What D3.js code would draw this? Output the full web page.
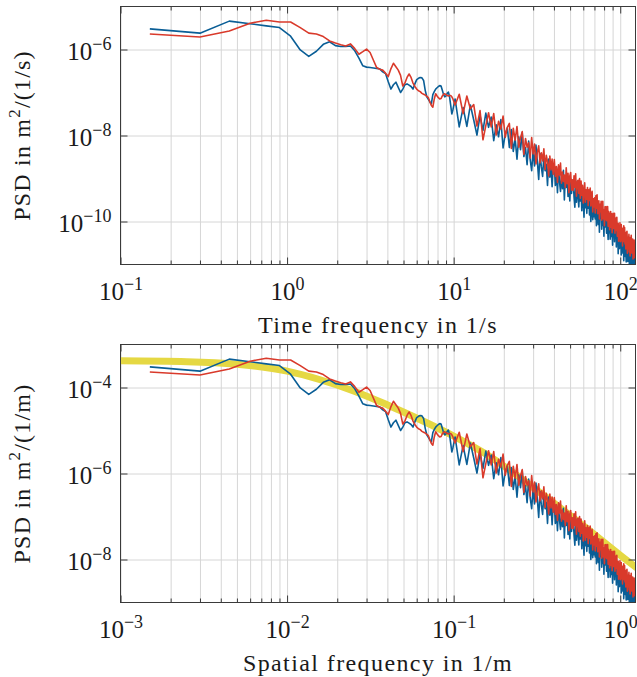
<!DOCTYPE html>
<html>

<head>
    <meta charset="utf-8">
    <title>PSD</title>
    <script src="https://cdn.jsdelivr.net/npm/d3@7/dist/d3.min.js"></script>
    <style>
        body { margin: 0; background: #fff; }
        text { font-family: 'Liberation Serif', 'Times New Roman', serif; fill: #1a1a1a; }
    </style>
</head>

<body>
    <svg width="637" height="677" id="mainsvg" style='display: block;'></svg>
    <script>
        // frequency grid: FFT bins of 0.15 Hz below 10 Hz, then every 0.6 Hz
        const df = 0.15;
        const fHighStart = 10.2;
        const dfHigh = 0.6;
        const speed = 100; // m/s, time frequency -> spatial frequency

        // log10 of PSD in m^2/(1/s), bins k*df, k = 1..66
        const blueLow = [
            -5.52, -5.62, -5.34, -5.40, -5.45, -5.49, -5.69, -6.01, -6.16, -6.04,
            -5.88, -5.82, -5.91, -5.93, -5.93, -5.92, -6.03, -6.20, -6.38, -6.41,
            -6.42, -6.43, -6.44, -6.45, -6.52, -6.56, -6.75, -6.92, -6.82, -6.76,
            -6.88, -7.00, -6.92, -6.82, -6.80, -6.83, -6.86, -6.92, -6.80, -6.70,
            -6.67, -6.65, -6.66, -6.72, -6.95, -7.10, -7.16, -7.22, -7.26, -7.05,
            -6.98, -6.92, -6.89, -6.86, -6.84, -6.85, -6.95, -7.05, -7.10, -7.08,
            -7.02, -6.99, -7.10, -7.30, -7.50, -7.40];
        const redLow = [
            -5.64, -5.71, -5.57, -5.39, -5.32, -5.36, -5.36, -5.49, -5.62, -5.64,
            -5.70, -5.80, -5.85, -5.89, -5.92, -5.87, -5.98, -6.11, -6.05, -5.99,
            -6.07, -6.25, -6.42, -6.46, -6.48, -6.55, -6.63, -6.45, -6.32, -6.40,
            -6.48, -6.60, -6.85, -6.78, -6.65, -6.57, -6.65, -6.78, -6.86, -6.92,
            -6.96, -6.98, -7.02, -7.04, -7.06, -7.09, -7.12, -7.22, -7.30, -7.34,
            -7.15, -7.03, -7.08, -7.12, -7.15, -7.14, -7.08, -7.04, -7.03, -7.05,
            -7.07, -7.08, -7.07, -7.07, -7.10, -7.15];
        // log10 of PSD, f = 10.2 + 0.6 i, i = 0..188
        const blueHigh = [
            -7.15, -7.80, -7.35, -7.79, -7.29, -7.64, -7.99, -7.53, -7.88, -7.48,
            -7.81, -7.57, -8.12, -7.75, -8.03, -7.63, -8.29, -7.97, -7.82, -8.28,
            -7.86, -8.37, -8.07, -8.55, -8.03, -8.33, -7.94, -8.49, -8.28, -8.68,
            -8.13, -8.56, -8.82, -8.34, -8.71, -8.22, -8.60, -9.02, -8.42, -8.73,
            -8.95, -8.47, -8.82, -8.67, -9.16, -8.55, -8.97, -8.71, -9.19, -8.71,
            -8.71, -9.16, -8.85, -9.33, -8.75, -9.08, -9.30, -8.90, -9.24, -8.81,
            -9.50, -8.95, -9.21, -8.91, -9.42, -9.11, -9.52, -9.01, -9.35, -9.12,
            -9.04, -9.43, -9.67, -9.16, -9.55, -9.06, -9.41, -9.66, -9.21, -9.52,
            -9.29, -9.75, -9.20, -9.55, -9.90, -9.31, -9.68, -9.41, -9.81, -9.32,
            -9.69, -9.37, -9.85, -9.53, -10.00, -9.41, -9.73, -9.96, -9.54, -9.89,
            -9.53, -9.94, -9.66, -10.10, -9.54, -9.87, -10.07, -9.68, -10.25, -9.63,
            -9.93, -9.62, -10.18, -9.79, -10.09, -9.75, -10.34, -9.88, -10.13, -9.76,
            -9.86, -10.27, -9.80, -10.16, -10.42, -9.93, -10.26, -9.87, -10.41, -10.03,
            -10.35, -9.96, -10.20, -10.55, -9.94, -10.33, -10.11, -10.47, -10.03, -10.32,
            -10.05, -10.59, -10.18, -10.47, -10.07, -10.75, -10.42, -10.21, -10.63, -10.31,
            -10.53, -10.19, -10.78, -10.36, -10.64, -10.28, -10.74, -10.35, -10.91, -10.30,
            -10.40, -10.81, -10.34, -10.65, -10.94, -10.33, -10.76, -10.52, -10.93, -10.45,
            -10.84, -10.48, -10.99, -10.57, -10.84, -10.46, -11.09, -10.73, -10.57, -11.00,
            -10.59, -10.97, -10.53, -11.12, -10.70, -10.91, -10.59, -11.10, -10.85];
        const redHigh = [
            -7.29, -7.04, -7.49, -7.08, -7.38, -7.28, -7.78, -7.42, -8.10, -7.77,
            -7.47, -7.80, -7.49, -7.99, -7.67, -7.85, -7.55, -8.04, -7.81, -7.72,
            -8.30, -7.83, -8.11, -7.79, -8.27, -8.05, -7.91, -8.44, -8.07, -8.27,
            -8.17, -8.52, -8.05, -8.43, -8.20, -8.66, -8.39, -8.24, -8.64, -8.40,
            -8.59, -8.31, -8.79, -8.46, -8.61, -8.94, -8.48, -8.80, -8.55, -8.90,
            -8.56, -8.95, -8.72, -9.09, -8.68, -8.92, -8.64, -9.11, -8.85, -9.07,
            -8.92, -9.21, -8.75, -9.12, -8.88, -9.33, -8.94, -8.86, -9.27, -9.03,
            -9.28, -8.94, -9.21, -8.89, -9.41, -9.10, -9.04, -9.35, -9.00, -9.46,
            -9.06, -9.39, -9.16, -9.57, -9.29, -9.10, -9.55, -9.26, -9.48, -9.21,
            -9.63, -9.26, -9.51, -9.22, -9.64, -9.40, -9.30, -9.78, -9.47, -9.66,
            -9.45, -9.80, -9.40, -9.69, -9.38, -9.82, -9.61, -9.52, -9.94, -9.60,
            -9.77, -9.53, -9.97, -9.64, -9.53, -9.94, -9.73, -10.10, -9.66, -9.95,
            -9.65, -9.98, -9.84, -9.65, -10.11, -9.77, -9.98, -10.19, -9.83, -9.77,
            -10.14, -9.82, -10.26, -9.92, -9.81, -10.16, -10.00, -9.81, -10.27, -10.01,
            -9.92, -10.21, -9.90, -10.34, -10.13, -10.04, -10.46, -10.12, -10.29, -10.03,
            -10.47, -10.16, -10.07, -10.45, -10.23, -10.57, -10.15, -10.39, -10.10, -10.47,
            -10.14, -10.52, -10.33, -10.64, -10.25, -10.49, -10.23, -10.74, -10.37, -10.64,
            -10.46, -10.30, -10.71, -10.42, -10.80, -10.37, -10.64, -10.32, -10.73, -10.49,
            -10.72, -10.41, -10.87, -10.53, -10.69, -10.43, -10.84, -10.52, -10.77];

        // reference road spectrum, spatial frequency in 1/m and log10 PSD in m^2/(1/m)
        const yellowFreq = [0.001, 0.0025, 0.005, 0.01, 0.0158, 0.0251, 0.0398, 0.0631, 0.1, 0.158, 0.251, 0.398, 0.631, 1.0, 1.259];
        const yellowExp = [-3.38, -3.40, -3.46, -3.62, -3.82, -4.08, -4.40, -4.75, -5.13, -5.56, -6.10, -6.68, -7.28, -7.90, -8.20];

        const timeTicksX = [0.1, 1, 10, 100];
        const timeTicksY = [1e-10, 1e-8, 1e-6];
        const spatialTicksX = [0.001, 0.01, 0.1, 1];
        const spatialTicksY = [1e-8, 1e-6, 1e-4];

        const svg = d3.select('#mainsvg');
        const left = 120.5;
        const innerWidth = 515;
        const innerHeight = 258;

        const timeFreq = blueLow.map((_, k) => (k + 1) * df)
            .concat(blueHigh.map((_, i) => fHighStart + i * dfHigh));
        const blueExp = blueLow.concat(blueHigh);
        const redExp = redLow.concat(redHigh);

        function gridValues(domain) {
            const out = [];
            for (let e = Math.floor(Math.log10(domain[0])); e <= Math.ceil(Math.log10(domain[1])); e++) {
                for (let m = 1; m <= 9; m++) {
                    const v = m * Math.pow(10, e);
                    if (v >= domain[0] * 0.9999 && v <= domain[1]) out.push(v);
                }
            }
            return out;
        }

        function expLabel(sel) {
            sel.each(function (d) {
                const t = d3.select(this).attr('font-size', 25);
                const e = Math.round(Math.log10(d));
                t.text(null);
                t.append('tspan').text('10');
                t.append('tspan').attr('dy', -10).attr('font-size', 18).text(e < 0 ? '\u2212' + (-e) : e);
            });
        }

        function drawPanel(p) {
            const g = svg.append('g').attr('transform', `translate(${left}, ${p.top})`);
            const x = d3.scaleLog().domain(p.xDomain).range([0, innerWidth]);
            const y = d3.scaleLog().domain(p.yDomain).range([innerHeight, 0]);

            // grid
            g.append('g').attr('class', 'grid').attr('transform', `translate(0, ${innerHeight})`)
                .call(d3.axisBottom(x).tickValues(gridValues(p.xDomain)).tickSize(-innerHeight).tickFormat(''));
            g.append('g').attr('class', 'grid')
                .call(d3.axisLeft(y).tickValues(p.yTicks).tickSize(-innerWidth).tickFormat(''));
            g.selectAll('.grid .domain').remove();
            g.selectAll('.grid line').attr('stroke', '#d6d6d6');

            // data
            g.append('clipPath').attr('id', 'clip' + p.id)
                .append('rect').attr('width', innerWidth).attr('height', innerHeight);
            const plot = g.append('g').attr('clip-path', `url(#clip${p.id})`);
            const line = d3.line().x(d => x(d[0])).y(d => y(d[1]));

            if (p.yellow) {
                const pts = yellowFreq.map((f, i) => [f, Math.pow(10, yellowExp[i])]);
                plot.append('path').datum(pts)
                    .attr('d', line.curve(d3.curveMonotoneX))
                    .attr('fill', 'none').attr('stroke', '#e5d843').attr('stroke-width', 7);
                line.curve(d3.curveLinear);
            }
            const series = [
                { exp: blueExp, color: '#0a5e96' },
                { exp: redExp, color: '#d93a2b' }
            ];
            plot.selectAll('.psd').data(series).join('path')
                .attr('class', 'psd')
                .attr('d', s => line(timeFreq.map((f, i) => [f * p.fScale, Math.pow(10, s.exp[i]) * p.pScale])))
                .attr('fill', 'none')
                .attr('stroke', s => s.color)
                .attr('stroke-width', 1.6)
                .attr('stroke-linejoin', 'round');

            // ticks
            const majors = p.xTicks;
            const minors = gridValues(p.xDomain).filter(v => !majors.some(m => Math.abs(v - m) / m < 1e-6));
            const bottom = g.append('g').attr('class', 'axis').attr('transform', `translate(0, ${innerHeight})`);
            bottom.append('g').call(d3.axisBottom(x).tickValues(minors).tickSize(-4).tickFormat(''));
            bottom.append('g').call(d3.axisBottom(x).tickValues(majors).tickSize(-7))
                .selectAll('text').attr('y', 35).attr('dy', null).call(expLabel);
            const topAx = g.append('g').attr('class', 'axis');
            topAx.append('g').call(d3.axisTop(x).tickValues(minors).tickSize(-4).tickFormat(''));
            topAx.append('g').call(d3.axisTop(x).tickValues(majors).tickSize(-7).tickFormat(''));
            g.append('g').attr('class', 'axis')
                .call(d3.axisLeft(y).tickValues(p.yTicks).tickSize(-7).tickPadding(9))
                .selectAll('text').attr('dy', '0.38em').call(expLabel);
            g.append('g').attr('class', 'axis').attr('transform', `translate(${innerWidth}, 0)`)
                .call(d3.axisRight(y).tickValues(p.yTicks).tickSize(-7).tickFormat(''));
            g.selectAll('.axis .domain').remove();
            g.selectAll('.axis, .axis g').attr('font-family', null).attr('color', '#3a3a3a');

            g.append('rect').attr('width', innerWidth).attr('height', innerHeight)
                .attr('fill', 'none').attr('stroke', '#3a3a3a').attr('stroke-width', 1);

            // labels
            g.append('text').attr('x', innerWidth / 2).attr('y', innerHeight + 68)
                .attr('text-anchor', 'middle').attr('font-size', 24).attr('letter-spacing', 1.4)
                .text(p.xLabel);
            const yl = svg.append('text')
                .attr('transform', `translate(30, ${p.top + innerHeight / 2}) rotate(-90)`)
                .attr('text-anchor', 'middle').attr('font-size', 24).attr('letter-spacing', 1.2);
            yl.append('tspan').text('PSD in m');
            yl.append('tspan').attr('dy', -10).attr('font-size', 17).text('2');
            yl.append('tspan').attr('dy', 10).text(p.yUnit);
        }

        drawPanel({
            id: 'time', top: 6.5,
            xDomain: [0.1, 123.5], yDomain: [1e-11, 1e-5],
            xTicks: timeTicksX, yTicks: timeTicksY,
            fScale: 1, pScale: 1, yellow: false,
            xLabel: 'Time frequency in 1/s', yUnit: '/(1/s)'
        });
        drawPanel({
            id: 'space', top: 344.5,
            xDomain: [0.001, 1.235], yDomain: [1e-9, 1e-3],
            xTicks: spatialTicksX, yTicks: spatialTicksY,
            fScale: 1 / speed, pScale: speed, yellow: true,
            xLabel: 'Spatial frequency in 1/m', yUnit: '/(1/m)'
        });
    </script>
</body>

</html>
